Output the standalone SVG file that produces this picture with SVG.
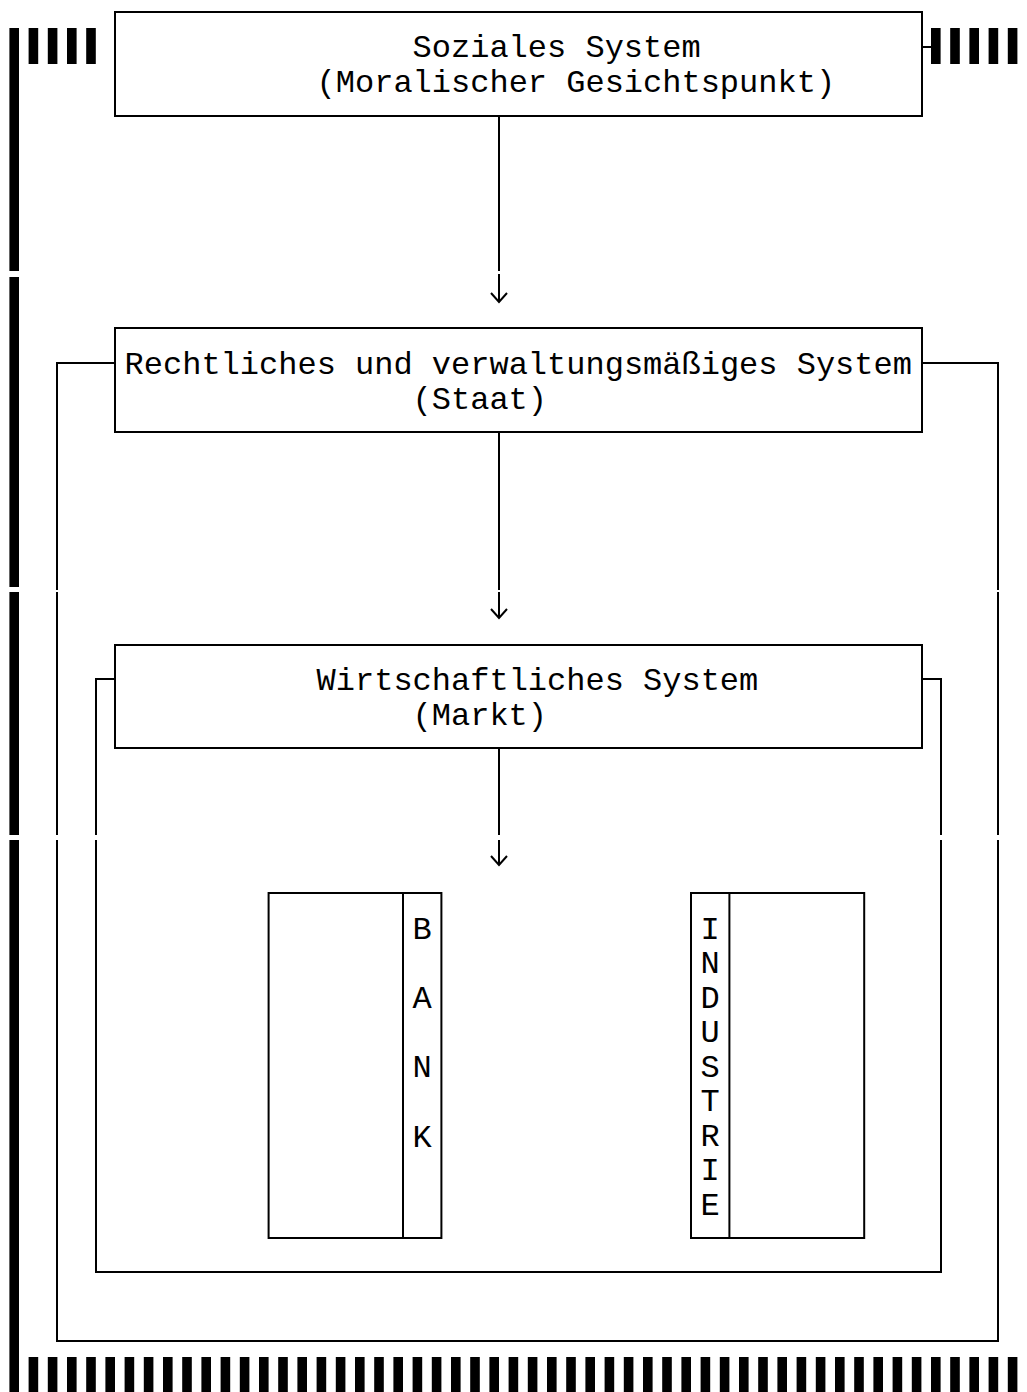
<svg xmlns="http://www.w3.org/2000/svg" width="1027" height="1392" viewBox="0 0 1027 1392">
<style>
.bg{fill:#fff}
.ln{fill:none;stroke:#000;stroke-width:2}
.bar{fill:#000}
.t{font-family:"Liberation Mono","Courier New",monospace;font-size:32px;fill:#000}
.c{text-anchor:middle}
</style>
<rect class="bg" x="0" y="0" width="1027" height="1392"/>
<g id="border">
<rect class="bar" x="9.4" y="28" width="9.6" height="243"/>
<rect class="bar" x="9.4" y="277" width="9.6" height="310"/>
<rect class="bar" x="9.4" y="592" width="9.6" height="243"/>
<rect class="bar" x="9.4" y="840" width="9.6" height="552"/>
<rect class="bar" x="28.6" y="28" width="9.6" height="36"/>
<rect class="bar" x="47.8" y="28" width="9.6" height="36"/>
<rect class="bar" x="67" y="28" width="9.6" height="36"/>
<rect class="bar" x="86.2" y="28" width="9.6" height="36"/>
<rect class="bar" x="931" y="28" width="9.6" height="36"/>
<rect class="bar" x="950.2" y="28" width="9.6" height="36"/>
<rect class="bar" x="969.4" y="28" width="9.6" height="36"/>
<rect class="bar" x="988.6" y="28" width="9.6" height="36"/>
<rect class="bar" x="1007.8" y="28" width="9.6" height="36"/>
<path class="ln" d="M922 47H931"/>
<g id="bottom-bars">
<rect class="bar" x="28.6" y="1357" width="9.6" height="35"/>
<rect class="bar" x="47.8" y="1357" width="9.6" height="35"/>
<rect class="bar" x="67" y="1357" width="9.6" height="35"/>
<rect class="bar" x="86.2" y="1357" width="9.6" height="35"/>
<rect class="bar" x="105.4" y="1357" width="9.6" height="35"/>
<rect class="bar" x="124.6" y="1357" width="9.6" height="35"/>
<rect class="bar" x="143.8" y="1357" width="9.6" height="35"/>
<rect class="bar" x="163" y="1357" width="9.6" height="35"/>
<rect class="bar" x="182.2" y="1357" width="9.6" height="35"/>
<rect class="bar" x="201.4" y="1357" width="9.6" height="35"/>
<rect class="bar" x="220.6" y="1357" width="9.6" height="35"/>
<rect class="bar" x="239.8" y="1357" width="9.6" height="35"/>
<rect class="bar" x="259" y="1357" width="9.6" height="35"/>
<rect class="bar" x="278.2" y="1357" width="9.6" height="35"/>
<rect class="bar" x="297.4" y="1357" width="9.6" height="35"/>
<rect class="bar" x="316.6" y="1357" width="9.6" height="35"/>
<rect class="bar" x="335.8" y="1357" width="9.6" height="35"/>
<rect class="bar" x="355" y="1357" width="9.6" height="35"/>
<rect class="bar" x="374.2" y="1357" width="9.6" height="35"/>
<rect class="bar" x="393.4" y="1357" width="9.6" height="35"/>
<rect class="bar" x="412.6" y="1357" width="9.6" height="35"/>
<rect class="bar" x="431.8" y="1357" width="9.6" height="35"/>
<rect class="bar" x="451" y="1357" width="9.6" height="35"/>
<rect class="bar" x="470.2" y="1357" width="9.6" height="35"/>
<rect class="bar" x="489.4" y="1357" width="9.6" height="35"/>
<rect class="bar" x="508.6" y="1357" width="9.6" height="35"/>
<rect class="bar" x="527.8" y="1357" width="9.6" height="35"/>
<rect class="bar" x="547" y="1357" width="9.6" height="35"/>
<rect class="bar" x="566.2" y="1357" width="9.6" height="35"/>
<rect class="bar" x="585.4" y="1357" width="9.6" height="35"/>
<rect class="bar" x="604.6" y="1357" width="9.6" height="35"/>
<rect class="bar" x="623.8" y="1357" width="9.6" height="35"/>
<rect class="bar" x="643" y="1357" width="9.6" height="35"/>
<rect class="bar" x="662.2" y="1357" width="9.6" height="35"/>
<rect class="bar" x="681.4" y="1357" width="9.6" height="35"/>
<rect class="bar" x="700.6" y="1357" width="9.6" height="35"/>
<rect class="bar" x="719.8" y="1357" width="9.6" height="35"/>
<rect class="bar" x="739" y="1357" width="9.6" height="35"/>
<rect class="bar" x="758.2" y="1357" width="9.6" height="35"/>
<rect class="bar" x="777.4" y="1357" width="9.6" height="35"/>
<rect class="bar" x="796.6" y="1357" width="9.6" height="35"/>
<rect class="bar" x="815.8" y="1357" width="9.6" height="35"/>
<rect class="bar" x="835" y="1357" width="9.6" height="35"/>
<rect class="bar" x="854.2" y="1357" width="9.6" height="35"/>
<rect class="bar" x="873.4" y="1357" width="9.6" height="35"/>
<rect class="bar" x="892.6" y="1357" width="9.6" height="35"/>
<rect class="bar" x="911.8" y="1357" width="9.6" height="35"/>
<rect class="bar" x="931" y="1357" width="9.6" height="35"/>
<rect class="bar" x="950.2" y="1357" width="9.6" height="35"/>
<rect class="bar" x="969.4" y="1357" width="9.6" height="35"/>
<rect class="bar" x="988.6" y="1357" width="9.6" height="35"/>
<rect class="bar" x="1007.8" y="1357" width="9.6" height="35"/>
</g>
</g>
<g id="frame-staat">
<path class="ln" d="M115 363H57V590M57 592V835M57 840V1341H998V840M998 835V592M998 590V363H922"/>
</g>
<g id="frame-markt">
<path class="ln" d="M115 679H96V835M96 840V1272H941V840M941 835V679H922"/>
</g>
<g id="node-sozial">
<rect class="ln" x="115" y="12" width="807" height="104"/>
<text class="t" x="412.6" y="57">Soziales System</text>
<text class="t" x="316.6" y="92">(Moralischer Gesichtspunkt)</text>
</g>
<g id="node-staat">
<rect class="ln" x="115" y="328" width="807" height="104"/>
<text class="t" x="124.6" y="374">Rechtliches und verwaltungsmäßiges System</text>
<text class="t" x="412.6" y="409">(Staat)</text>
</g>
<g id="node-markt">
<rect class="ln" x="115" y="645" width="807" height="103"/>
<text class="t" x="316.6" y="690">Wirtschaftliches System</text>
<text class="t" x="412.6" y="725">(Markt)</text>
</g>
<g id="node-bank">
<rect class="ln" x="268.6" y="893" width="172.8" height="345"/>
<path class="ln" d="M403 893V1238"/>
<text class="t c" x="422.2" y="939">B</text>
<text class="t c" x="422.2" y="1008">A</text>
<text class="t c" x="422.2" y="1077">N</text>
<text class="t c" x="422.2" y="1147">K</text>
</g>
<g id="node-industrie">
<rect class="ln" x="691" y="893" width="173.2" height="345"/>
<path class="ln" d="M729.4 893V1238"/>
<text class="t c" x="710.2" y="939">I</text>
<text class="t c" x="710.2" y="973">N</text>
<text class="t c" x="710.2" y="1008">D</text>
<text class="t c" x="710.2" y="1042">U</text>
<text class="t c" x="710.2" y="1077">S</text>
<text class="t c" x="710.2" y="1111">T</text>
<text class="t c" x="710.2" y="1146">R</text>
<text class="t c" x="710.2" y="1180">I</text>
<text class="t c" x="710.2" y="1215">E</text>
</g>
<g id="connectors">
<path class="ln" d="M499 116V271M499 274V302M491 293L499 302L507 293"/>
<path class="ln" d="M499 432V590M499 592V618M491 609L499 618L507 609"/>
<path class="ln" d="M499 748V835M499 840V865M491 856L499 865L507 856"/>
</g>
</svg>
